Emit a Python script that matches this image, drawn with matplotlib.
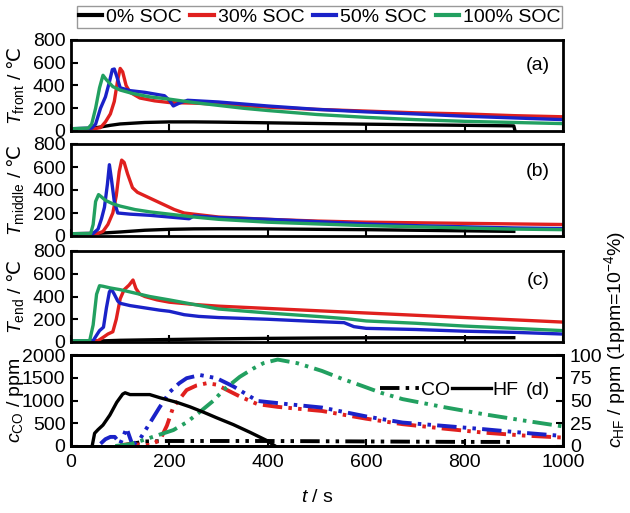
import matplotlib
matplotlib.use("Agg")
import matplotlib.pyplot as plt
from matplotlib.lines import Line2D

plt.rcParams['font.family'] = ['Liberation Sans', 'DejaVu Sans']
plt.rcParams['mathtext.fontset'] = 'custom'
plt.rcParams['mathtext.rm'] = 'Liberation Sans'
plt.rcParams['mathtext.it'] = 'Liberation Sans:italic'
plt.rcParams['mathtext.sf'] = 'DejaVu Sans'

# ---------------- data ----------------
soc_labels = ['0% SOC', '30% SOC', '50% SOC', '100% SOC']
colors = ['#000000', '#e0201e', '#1a22c8', '#22a060']

# panel (a) front temperature
a_t0 = [0, 40, 60, 80, 100, 150, 200, 250, 300, 400, 500, 600, 700, 800, 900, 902]
a_T0 = [20, 22, 35, 50, 62, 75, 80, 80, 78, 72, 66, 60, 55, 50, 45, 10]
a_t30 = [0, 50, 60, 70, 80, 88, 95, 100, 105, 112, 120, 140, 170, 200, 250, 300, 400, 500, 600, 700, 800, 900, 1000]
a_T30 = [20, 22, 30, 80, 150, 260, 450, 550, 520, 400, 340, 290, 265, 250, 245, 235, 210, 190, 175, 160, 150, 135, 125]
a_t50 = [0, 42, 50, 60, 70, 78, 84, 88, 93, 100, 120, 150, 190, 200, 208, 220, 237, 300, 400, 500, 600, 700, 800, 900, 1000]
a_T50 = [20, 25, 60, 200, 300, 430, 540, 545, 480, 380, 355, 340, 310, 270, 220, 245, 270, 255, 220, 190, 168, 150, 130, 115, 100]
a_t100 = [0, 35, 42, 50, 58, 65, 72, 85, 100, 125, 160, 200, 250, 300, 350, 400, 500, 600, 700, 800, 900, 1000]
a_T100 = [20, 25, 60, 200, 380, 490, 450, 390, 360, 330, 300, 280, 250, 225, 200, 180, 145, 120, 100, 85, 75, 65]

# panel (b) middle temperature
b_t0 = [0, 50, 100, 150, 200, 250, 300, 400, 500, 600, 700, 800, 900]
b_T0 = [20, 22, 35, 50, 58, 62, 63, 62, 58, 55, 50, 45, 40]
b_t30 = [0, 55, 65, 75, 85, 92, 98, 103, 108, 115, 125, 135, 150, 170, 190, 210, 230, 250, 300, 400, 500, 600, 700, 800, 900, 1000]
b_T30 = [20, 22, 40, 100, 200, 350, 560, 660, 640, 540, 420, 380, 350, 310, 270, 230, 200, 190, 165, 145, 130, 120, 115, 110, 105, 100]
b_t50 = [0, 45, 55, 62, 68, 74, 78, 82, 88, 95, 120, 160, 200, 240, 250, 300, 400, 500, 600, 700, 800, 900, 1000]
b_T50 = [20, 22, 60, 150, 250, 450, 620, 500, 300, 200, 190, 180, 165, 150, 175, 160, 145, 125, 105, 90, 80, 70, 65]
b_t100 = [0, 40, 45, 50, 56, 62, 70, 85, 100, 130, 160, 200, 250, 300, 400, 500, 600, 700, 800, 900, 1000]
b_T100 = [20, 22, 100, 300, 360, 340, 310, 280, 260, 230, 210, 190, 165, 145, 120, 105, 90, 80, 70, 60, 55]

# panel (c) end temperature
c_t0 = [0, 50, 100, 200, 300, 400, 500, 600, 700, 800, 900]
c_T0 = [5, 8, 15, 22, 28, 32, 35, 37, 38, 38, 38]
c_t30 = [0, 55, 65, 75, 85, 92, 100, 108, 118, 126, 132, 140, 150, 175, 200, 250, 300, 400, 500, 600, 700, 800, 900, 1000]
c_T30 = [10, 12, 40, 70, 90, 200, 380, 460, 500, 545, 470, 420, 400, 370, 350, 330, 315, 295, 275, 255, 235, 215, 195, 175]
c_t50 = [0, 45, 52, 58, 66, 72, 78, 82, 88, 95, 100, 120, 150, 180, 200, 230, 260, 300, 400, 500, 555, 575, 600, 700, 800, 900, 1000]
c_T50 = [10, 12, 60, 100, 130, 300, 440, 465, 420, 360, 340, 320, 300, 280, 270, 240, 225, 215, 200, 180, 170, 135, 120, 110, 95, 85, 70]
c_t100 = [0, 38, 45, 52, 58, 65, 80, 100, 130, 160, 200, 250, 300, 400, 500, 560, 600, 700, 800, 900, 1000]
c_T100 = [10, 12, 150, 420, 495, 490, 475, 460, 430, 400, 370, 330, 290, 255, 225, 205, 185, 165, 140, 120, 100]

# panel (d) gas concentrations
hf_t = [43, 48, 55, 65, 79, 93, 105, 110, 120, 160, 181, 215, 242, 270, 296, 330, 364, 398, 415]
hf_ppm = [0, 14, 18, 23, 34, 48, 57, 58.5, 56.5, 56.5, 53, 48, 43, 37, 31, 23.5, 15, 6, 0]

co_t0 = [100, 130, 150, 200, 300, 400, 500, 600, 700, 800, 900]
co_0 = [0, 60, 100, 110, 110, 110, 105, 100, 95, 90, 90]
co_t30 = [100, 120, 140, 160, 181, 195, 208, 222, 235, 255, 276, 295, 310, 343, 379, 420, 510, 600, 674, 760, 838, 920, 1000]
co_30 = [20, 40, 30, 20, 130, 450, 860, 1050, 1230, 1330, 1380, 1350, 1270, 1090, 920, 860, 770, 600, 480, 380, 295, 230, 185]
co_t50 = [60, 70, 80, 89, 100, 113, 125, 140, 160, 180, 201, 220, 235, 262, 296, 330, 379, 440, 510, 600, 674, 760, 838, 920, 1000]
co_50 = [50, 150, 200, 200, 50, 390, 20, 150, 500, 850, 1190, 1380, 1490, 1560, 1490, 1310, 990, 920, 845, 650, 515, 440, 370, 290, 220]
co_t100 = [90, 120, 147, 180, 208, 235, 262, 290, 310, 343, 370, 391, 420, 460, 510, 550, 592, 630, 674, 760, 838, 920, 1000]
co_100 = [0, 40, 130, 250, 350, 520, 750, 1000, 1230, 1520, 1700, 1820, 1900, 1820, 1650, 1480, 1320, 1170, 1030, 850, 700, 560, 430]

temp_ticks = [0, 200, 400, 600, 800]
co_ticks = [0, 500, 1000, 1500, 2000]
hf_ticks = [0, 25, 50, 75, 100]
x_ticks = [0, 200, 400, 600, 800, 1000]

# ---------------- figure ----------------
W, H = 630, 513
fig = plt.figure(figsize=(W / 100, H / 100), dpi=100)

left = 71 / W
width = (563 - 71) / W
def frac(top, bot):
    return [left, 1 - bot / H, width, (bot - top) / H]

ax_a = fig.add_axes(frac(40, 131))
ax_b = fig.add_axes(frac(144, 236))
ax_c = fig.add_axes(frac(251, 342))
ax_d = fig.add_axes(frac(355, 446))

FS = 14
LW = 2.4
co_style = (0, (5, 1.6, 0.9, 1.6, 0.9, 1.6))
YLAB_X = -0.092

def style(ax, ylim, yticks):
    ax.set_xlim(0, 1000)
    ax.set_ylim(*ylim)
    ax.set_yticks(yticks)
    ax.set_xticks(x_ticks)
    for s in ax.spines.values():
        s.set_linewidth(2.0)
    ax.tick_params(direction='in', length=5, width=1.5, labelsize=FS, pad=4)

temp_sets = [
    (ax_a, [(a_t0, a_T0), (a_t30, a_T30), (a_t50, a_T50), (a_t100, a_T100)], 'front', '(a)', 0.715),
    (ax_b, [(b_t0, b_T0), (b_t30, b_T30), (b_t50, b_T50), (b_t100, b_T100)], 'middle', '(b)', 0.70),
    (ax_c, [(c_t0, c_T0), (c_t30, c_T30), (c_t50, c_T50), (c_t100, c_T100)], 'end', '(c)', 0.68),
]
for ax, series, sub, tag, ty in temp_sets:
    for (t, T), col in zip(series, colors):
        ax.plot(t, T, color=col, lw=LW, solid_joinstyle='round')
    style(ax, (0, 800), temp_ticks)
    ax.tick_params(axis='x', labelbottom=False)
    ax.set_ylabel(r'$T_{\rm ' + sub + r'}$ / $\mathsf{℃}$', fontsize=FS)
    ax.yaxis.set_label_coords(YLAB_X, 0.5)
    ax.text(0.973, ty, tag, transform=ax.transAxes, ha='right', va='center', fontsize=FS)

# panel d
ax_d2 = ax_d.twinx()
for t, v, col in zip([co_t0, co_t30, co_t50, co_t100], [co_0, co_30, co_50, co_100], colors):
    ax_d.plot(t, v, color=col, lw=2.8, linestyle=co_style)
ax_d2.plot(hf_t, hf_ppm, color='black', lw=LW)
style(ax_d, (0, 2000), co_ticks)
ax_d2.set_ylim(0, 100)
ax_d2.set_yticks(hf_ticks)
ax_d2.tick_params(direction='in', length=5, width=1.5, labelsize=FS, pad=5)
for s in ax_d2.spines.values():
    s.set_linewidth(2.0)
ax_d.tick_params(axis='x', pad=6)
ax_d.set_ylabel(r'$c_{\rm CO}$ / ppm', fontsize=FS)
ax_d.yaxis.set_label_coords(YLAB_X, 0.5)
ax_d.text(0.973, 0.615, '(d)', transform=ax_d.transAxes, ha='right', va='center', fontsize=FS)

gas_handles = [Line2D([], [], color='black', lw=2.8, linestyle=co_style),
               Line2D([], [], color='black', lw=LW)]
ax_d2.legend(gas_handles, ['CO', 'HF'], ncol=2, loc='center right',
             bbox_to_anchor=(0.91, 0.615), frameon=False, fontsize=FS,
             handlelength=2.0, handletextpad=0.1, columnspacing=0.1,
             borderaxespad=0, borderpad=0)

fig.text(615 / W, 1 - 448 / H, r'$c_{\rm HF}$ / ppm (1ppm=10$^{-4}$%)',
         rotation=90, ha='center', va='bottom', fontsize=FS)
fig.text(317 / W, 1 - 497 / H, r'$t$ / s', ha='center', va='center', fontsize=FS)

# top legend
handles = [Line2D([], [], color=c, lw=3) for c in colors]
leg = fig.legend(handles, soc_labels, loc='upper center', bbox_to_anchor=(319.5 / W, 1 - 6 / H),
                 ncol=4, frameon=True, fancybox=False, edgecolor='#808080', fontsize=FS,
                 handlelength=1.2, handletextpad=0.2, columnspacing=0.45, borderpad=0.1,
                 borderaxespad=0)
leg.get_frame().set_linewidth(1.0)

fig.savefig('out.png', dpi=100)
